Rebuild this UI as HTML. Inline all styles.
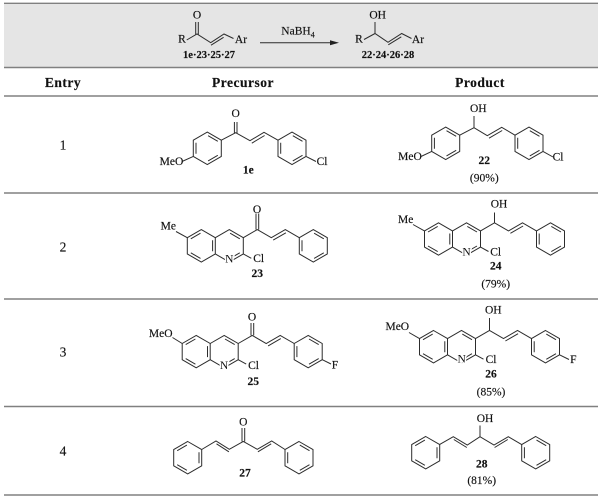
<!DOCTYPE html>
<html><head><meta charset="utf-8"><style>
html,body{margin:0;padding:0;background:#fff}
svg{display:block;filter:blur(.3px)}
text{font-family:"Liberation Serif",serif;font-size:11.5px;fill:#111;stroke:#111;stroke-width:.15px;text-anchor:middle;dominant-baseline:central}
.b{font-weight:bold}
.h{font-weight:bold;font-size:13.5px;letter-spacing:.5px}
.e{font-size:13.5px}
.n{paint-order:stroke;stroke:#fff;stroke-width:3px}
path{fill:none;stroke:#2c2c2c;stroke-width:1}
</style></head><body>
<svg width="601" height="498" viewBox="0 0 601 498" xmlns="http://www.w3.org/2000/svg">
<defs>
<path id="bL" d="M0-16.2 14-8.1V8.1L0 16.2-14 8.1V-8.1ZM-11.3-5.5V5.5M.8-12.6 10.5-7M.8 12.6 10.5 7"/>
<path id="bR" d="M0-16.2 14-8.1V8.1L0 16.2-14 8.1V-8.1ZM11.3-5.5V5.5M-.8-12.6-10.5-7M-.8 12.6-10.5 7"/>
<g id="q"><use href="#bR"/>
<path d="M14-8.1 28-16.2 42-8.1V8.1L28 16.2 14 8.1M28.8-12.6 38.5-7M28.8 12.6 38.5 7"/>
<path d="M42-8.1 56-16.2 70-8.1 84-16.2 98-8.1M71.9-5.7 84.6-13M42 8.1 50 12.5"/>
<use href="#bL" x="112"/></g>
</defs>
<rect x="4" y="4" width="594" height="63" fill="#e5e5e5"/>
<path style="stroke:#808080;stroke-width:1.4" d="M4 3.3H598M4 67.5H598M4 96H598M4 193H598M4 299H598M4 406.5H598"/>
<path style="stroke:#a0a0a0;stroke-width:2" d="M4 495H598"/>
<!-- header scheme -->
<text x="197" y="15.7">O</text>
<path d="M195.7 22V34.5M198.3 22V34.5M186.7 40 197 34 210.7 42.7 224 34 233.5 38.5M211 45.2 223.6 37.3"/>
<text x="182" y="39.5">R</text><text x="241" y="40">Ar</text>
<text x="209" y="55.5" class="b" style="font-size:10.5px">1e·23·25·27</text>
<text x="298" y="31.5">NaBH<tspan font-size="8" dy="3">4</tspan></text>
<path d="M260 42.7H331"/><polygon points="330,40.2 339,42.7 330,45.2" fill="#222"/>
<text x="377.7" y="15.7">OH</text>
<path d="M375 22V33.5M364 39.5 375 33.5 388 42.3 401.7 33.5 411.5 38.5M388.3 44.8 401.3 36.8"/>
<text x="359" y="39.5">R</text><text x="418" y="40">Ar</text>
<text x="388" y="55.5" class="b" style="font-size:10.5px">22·24·26·28</text>
<text x="63" y="82.7" class="h">Entry</text><text x="243" y="82.7" class="h">Precursor</text><text x="480" y="82.7" class="h">Product</text>
<text x="63" y="145" class="e">1</text><text x="63" y="247" class="e">2</text><text x="63" y="352" class="e">3</text><text x="63" y="451" class="e">4</text>
<!-- 1e -->
<use href="#bL" x="207.3" y="148.3"/><use href="#bL" x="292" y="148.3"/>
<path d="M221.3 140.2 235.7 132.7 250 140.7 264 132.3 278 140.2M251.8 143.2 264.6 135.5M234.4 122V133M237 122V133M193.3 156.4 182 161.5M306 156.4 316 161.5"/>
<text x="235.7" y="114">O</text><text x="171.5" y="162">MeO</text><text x="322" y="162">Cl</text><text x="248.3" y="170.5" class="b">1e</text>
<!-- 22 -->
<use href="#bL" x="445.7" y="143.3"/><use href="#bL" x="529" y="143.3"/>
<path d="M459.7 135.2 474 127.7 487.3 135.7 501.7 127.3 515 135.2M489 138.2 502.2 130.5M474 116V127.7M431.7 151.4 421 156.5M543 151.4 553 157"/>
<text x="478.3" y="109">OH</text><text x="410" y="157">MeO</text><text x="558" y="157.5">Cl</text><text x="484.3" y="161" class="b">22</text><text x="484.3" y="178.5">(90%)</text>
<!-- 23 -->
<use href="#q" x="201.3" y="245.8"/>
<path d="M187.3 237.7 176 231.5M256 213.5V229.6M258.7 213.5V229.6"/>
<text x="257" y="210">O</text><text x="168.3" y="226.7">Me</text><text x="229.3" y="259.5" class="n">N</text><text x="258.7" y="259">Cl</text><text x="257.3" y="274" class="b">23</text>
<!-- 24 -->
<use href="#q" x="438.5" y="239"/>
<path d="M424.5 230.9 413 224.5M494.5 212.5V222.8"/>
<text x="499" y="204.3">OH</text><text x="405.7" y="220">Me</text><text x="466.5" y="252.7" class="n">N</text><text x="495.7" y="252.5">Cl</text><text x="495.7" y="266.7" class="b">24</text><text x="495.7" y="284.3">(79%)</text>
<!-- 25 -->
<use href="#q" x="196.2" y="351.6"/>
<path d="M182.2 343.5 172.5 337.5M251 323V335.4M253.7 323V335.4M322.3 359.7 331 364"/>
<text x="252" y="317.5">O</text><text x="160.7" y="334">MeO</text><text x="224" y="366" class="n">N</text><text x="253.5" y="366">Cl</text><text x="253.3" y="382" class="b">25</text><text x="335" y="365.5">F</text>
<!-- 26 -->
<use href="#q" x="433.5" y="346.7"/>
<path d="M419.5 338.6 409 332.5M489.5 318V330.5M559.5 354.8 569 359.5"/>
<text x="493.3" y="310.7">OH</text><text x="397.3" y="327">MeO</text><text x="461.7" y="359.5" class="n">N</text><text x="491" y="360">Cl</text><text x="491" y="374.7" class="b">26</text><text x="491" y="392.3">(85%)</text><text x="573.3" y="360">F</text>
<!-- 27 -->
<use href="#bR" x="187.7" y="457.7"/><use href="#bL" x="299" y="457.7"/>
<path d="M201.7 449.5 216 441 229.3 449.3 243.3 441.5 257.3 449.3 271.7 441 285 449.5M216.5 443.8 228.9 451.8M257.9 451.8 271.2 443.8M242 428V441.5M244.7 428V441.5"/>
<text x="243.3" y="422.7">O</text><text x="245" y="473.5" class="b">27</text>
<!-- 28 -->
<use href="#bR" x="425.7" y="452.7"/><use href="#bL" x="535.7" y="452.7"/>
<path d="M439.5 444.6 453.3 436.7 467.3 445 480 436.7 494 445 508.3 436.7 521.7 444.6M453.8 439.5 466.8 447.5M494.6 447.5 507.8 439.5M480 425.5V436.7"/>
<text x="485" y="419">OH</text><text x="481.7" y="464.3" class="b">28</text><text x="481.7" y="481">(81%)</text>
</svg>
</body></html>
